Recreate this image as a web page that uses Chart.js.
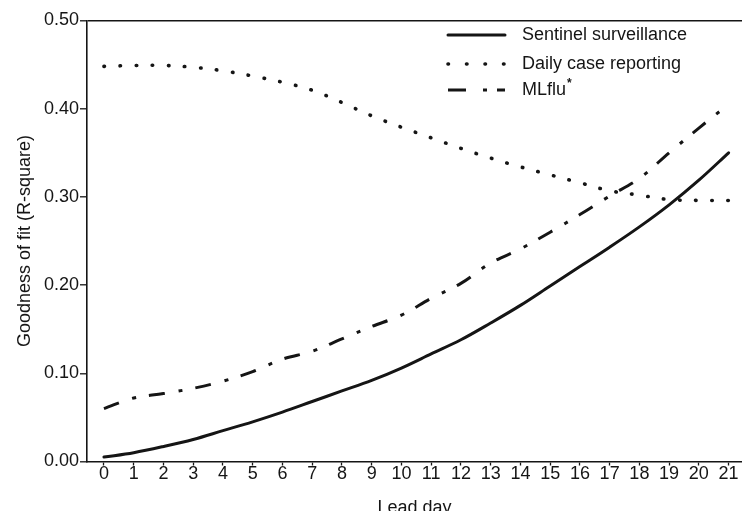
<!DOCTYPE html>
<html>
<head>
<meta charset="utf-8">
<script src="https://cdn.jsdelivr.net/npm/chart.js@4/dist/chart.umd.min.js"></script>
<style>
  html, body { margin: 0; padding: 0; background: #fff; overflow: hidden; }
  #wrap { width: 742px; height: 511px; overflow: hidden; }
  canvas { display: block; }
</style>
</head>
<body>
<div id="wrap"><canvas id="c" width="742" height="517"></canvas></div>
<script>
// ---- data ----
const days = [0,1,2,3,4,5,6,7,8,9,10,11,12,13,14,15,16,17,18,19,20,21];
const sentinel = [0.005,0.010,0.017,0.025,0.035,0.045,0.056,0.068,0.080,0.092,0.106,0.122,0.138,0.157,0.177,0.199,0.221,0.243,0.266,0.291,0.319,0.350];
const dailyReporting = [0.448,0.449,0.449,0.447,0.443,0.437,0.430,0.421,0.407,0.392,0.379,0.367,0.355,0.344,0.334,0.325,0.316,0.307,0.302,0.297,0.296,0.296];
const mlflu = [0.060,0.072,0.077,0.083,0.091,0.102,0.116,0.125,0.139,0.153,0.166,0.185,0.202,0.225,0.241,0.260,0.280,0.301,0.321,0.350,0.378,0.405];
const yTicks = [0, 0.1, 0.2, 0.3, 0.4, 0.5];
const seriesNames = ['Sentinel surveillance', 'Daily case reporting', 'MLflu'];
const xTitle = 'Lead day';
const yTitle = 'Goodness of fit (R-square)';

const INK = '#151515';
const FONT = "'Liberation Sans', Arial, Helvetica, sans-serif";
const FS = 18;

const toPts = arr => days.map((d, i) => ({ x: d, y: arr[i] }));

const legendPlugin = {
  id: 'scanLegend',
  afterDatasetsDraw(chart) {
    const ctx = chart.ctx;
    const rows = [35, 64, 90];
    const x0 = 448, x1 = 505, tx = 522;
    const legendDash = [[], [0.5, 18], [18, 17, 4, 10]];
    chart.data.datasets.forEach((ds, i) => {
      const y = rows[i];
      ctx.save();
      ctx.strokeStyle = ds.borderColor;
      ctx.lineWidth = ds.borderWidth;
      ctx.lineCap = ds.borderCapStyle || 'butt';
      ctx.setLineDash(legendDash[i]);
      ctx.beginPath();
      ctx.moveTo(x0, y);
      ctx.lineTo(x1, y);
      ctx.stroke();
      ctx.setLineDash([]);
      ctx.fillStyle = INK;
      ctx.font = FS + 'px ' + FONT;
      ctx.textBaseline = 'middle';
      ctx.textAlign = 'left';
      ctx.fillText(seriesNames[i], tx, y);
      if (i === 2) {
        const w = ctx.measureText(seriesNames[i]).width;
        ctx.font = 'bold 12px ' + FONT;
        ctx.fillText('*', tx + w + 1, y - 6);
      }
      ctx.restore();
    });
  }
};

new Chart(document.getElementById('c'), {
  type: 'line',
  data: {
    datasets: [
      { label: seriesNames[0], data: toPts(sentinel), borderColor: INK, borderWidth: 3,
        pointRadius: 0, tension: 0.35, borderCapStyle: 'round' },
      { label: seriesNames[1], data: toPts(dailyReporting), borderColor: INK, borderWidth: 3.6,
        pointRadius: 0, tension: 0.35, borderDash: [0.5, 15.6], borderCapStyle: 'round' },
      { label: seriesNames[2], data: toPts(mlflu), borderColor: INK, borderWidth: 3,
        pointRadius: 0, tension: 0.35, borderDash: [16, 14, 4, 13], borderCapStyle: 'butt' }
    ]
  },
  options: {
    responsive: false,
    animation: false,
    devicePixelRatio: 1,
    layout: { padding: { top: 20.5, right: 0, bottom: 0, left: 0 } },
    plugins: { legend: { display: false }, tooltip: { enabled: false } },
    scales: {
      x: {
        type: 'linear',
        min: -0.57,
        max: 21.45,
        afterBuildTicks: s => { s.ticks = days.map(v => ({ value: v })); },
        afterFit: s => { s.height = 55.5; },
        ticks: { color: INK, font: { family: FONT, size: FS, lineHeight: 1 }, padding: 0,
                 maxRotation: 0, autoSkip: false, callback: v => String(v) },
        grid: { drawOnChartArea: false, drawTicks: true, tickLength: 4, tickColor: INK, tickWidth: 1.3 },
        border: { display: true, color: INK, width: 1.6 },
        title: { display: true, text: xTitle, color: INK, font: { family: FONT, size: FS, lineHeight: 1 },
                 padding: { top: 0, bottom: 0 } }
      },
      y: {
        min: 0,
        max: 0.5,
        afterBuildTicks: s => { s.ticks = yTicks.map(v => ({ value: v })); },
        afterFit: s => { s.width = 87; },
        ticks: { color: INK, font: { family: FONT, size: FS }, padding: 1,
                 callback: v => Number(v).toFixed(2) },
        grid: { drawOnChartArea: true, drawTicks: true, tickLength: 7,
                color: c => (c.tick && Math.abs(c.tick.value - 0.5) < 1e-9) ? INK : 'rgba(0,0,0,0)',
                lineWidth: 1.6, tickColor: INK, tickWidth: 1.3 },
        border: { display: true, color: INK, width: 1.6 },
        title: { display: true, text: yTitle, color: INK, font: { family: FONT, size: FS },
                 padding: { top: 14, bottom: 0 } }
      }
    }
  },
  plugins: [legendPlugin]
});
</script>
</body>
</html>
